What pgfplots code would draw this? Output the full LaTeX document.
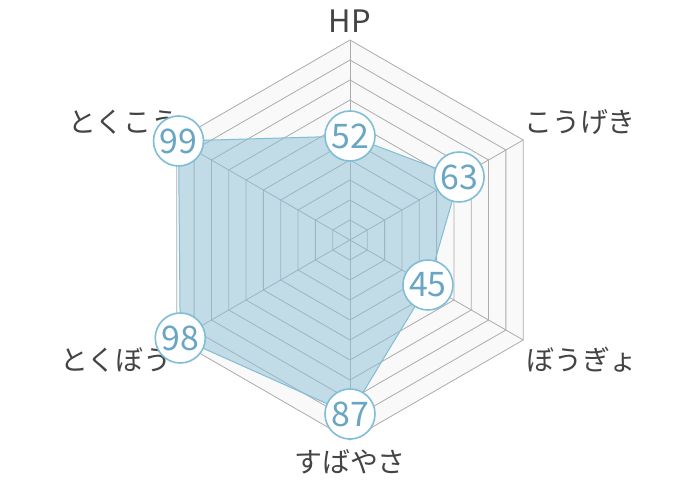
\documentclass[border=0pt]{standalone}
\usepackage{fontspec}
\setmainfont{Noto Sans CJK JP}
\usepackage{pgfplots}
\usepackage{pgfplotstable}
\pgfplotsset{compat=1.18}

\definecolor{gridc}{RGB}{172,172,172}
\definecolor{bgc}{RGB}{249,249,249}
\definecolor{fillc}{RGB}{139,191,215}
\definecolor{edgec}{RGB}{128,190,215}
\definecolor{numc}{RGB}{104,166,196}
\definecolor{labc}{RGB}{68,68,68}

% angle (deg), value
\pgfplotstableread{
a r lab
90 52 52
30 63 63
-30 45 45
-90 87 87
-150 98 98
150 99 99
}\stats

\tikzset{catlabel/.style={text=labc, font=\fontsize{28}{28}\selectfont, anchor=base}}
\pgfplotsset{polar/.style={data cs=polar, mark=none}}

\begin{document}
\begin{tikzpicture}
\begin{axis}[
    width=700bp, height=480bp, scale only axis,
    xmin=-175, xmax=175, ymin=-120, ymax=120,
    hide axis, clip=false,
]
\path[fill=white] (rel axis cs:0,0) rectangle (rel axis cs:1,1);

% background hexagon
\addplot[polar, draw=none, fill=bgc] coordinates {
    (90,100) (30,100) (-30,100) (-90,100) (-150,100) (150,100) (90,100)};

% rings
\pgfplotsinvokeforeach{10,20,30,40,50,60,70,80,90,100}{
  \addplot[polar, draw=gridc, line width=0.8bp] coordinates {
    (90,#1) (30,#1) (-30,#1) (-90,#1) (-150,#1) (150,#1) (90,#1)};
}
% spokes
\pgfplotsinvokeforeach{90,30,-30,-90,-150,150}{
  \addplot[polar, draw=gridc, line width=0.8bp] coordinates {(#1,0) (#1,100)};
}

% category labels
\node[catlabel, font=\fontsize{31}{31}\selectfont] at (axis cs:0,103.5) {HP};
\node[catlabel] at (axis cs:115,53.5) {こうげき};
\node[catlabel] at (axis cs:116,-65.5) {ぼうぎょ};
\node[catlabel] at (axis cs:0,-116) {すばやさ};
\node[catlabel] at (axis cs:-117,-65.5) {とくぼう};
\node[catlabel] at (axis cs:-113,53.5) {とくこう};

% data area
\addplot[polar, draw=edgec, line width=1bp, fill=fillc, fill opacity=0.5]
  table[x=a, y=r] {\stats} -- cycle;

% value labels
\addplot[polar, draw=none,
    nodes near coords, point meta=explicit symbolic,
    every node near coord/.append style={anchor=center, circle, draw=edgec,
      line width=1.6bp, fill=white, text=numc, inner sep=0pt,
      minimum size=50bp, font=\fontsize{34}{34}\selectfont}]
  table[x=a, y=r, meta=lab] {\stats};
\end{axis}
\end{tikzpicture}
\end{document}
